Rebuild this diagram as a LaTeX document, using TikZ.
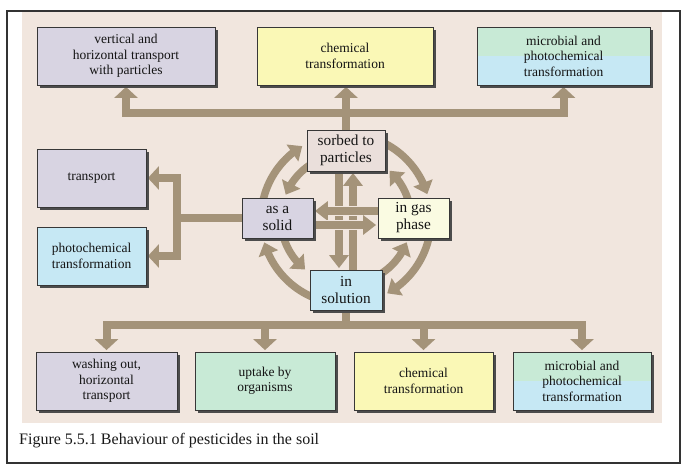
\documentclass[tikz,border=0pt]{standalone}
\usepackage{fontspec}
\setmainfont{Liberation Serif}
\usetikzlibrary{arrows.meta,bending,shadows,calc}
\definecolor{flowc}{RGB}{164,147,121}
\definecolor{beige}{RGB}{241,230,222}
\definecolor{lav}{RGB}{216,212,226}
\definecolor{yel}{RGB}{250,248,182}
\definecolor{grn}{RGB}{200,234,214}
\definecolor{blu}{RGB}{198,232,244}
\definecolor{pnk}{RGB}{234,223,219}
\definecolor{gasc}{RGB}{250,251,226}
\definecolor{edgec}{RGB}{55,55,55}
\pgfdeclarelayer{bg}
\pgfdeclarelayer{conn}
\pgfsetlayers{bg,conn,main}
\begin{document}
\begin{tikzpicture}[x=1pt,y=1pt,
  box/.style={draw=edgec, line width=0.8pt, inner sep=0pt, align=center,
    text=black!92, font=\fontsize{13.5}{15.5}\selectfont,
    drop shadow={shadow xshift=3pt, shadow yshift=-3pt, fill=black!70, opacity=1}},
  midbox/.style={box, font=\fontsize{15.3}{17}\selectfont},
  splitbox/.style={fill=grn, path picture={\fill[blu] (path picture bounding box.west) rectangle (path picture bounding box.south east);}},
  flow/.style={draw=flowc, line width=8pt, line join=miter, -{Triangle[width=23pt,length=11pt]}, shorten >=1.5pt},
  cflow/.style={draw=flowc, line width=7.5pt, -{Triangle[width=19pt,length=13pt]}, shorten >=1.5pt},
  ring/.style={draw=flowc, line width=7.5pt, -{Triangle[width=20pt,length=12pt]}},
  halo/.style={preaction={-, draw=beige, line width=10.5pt}}
]
\useasboundingbox (0,0) rectangle (691,-471);
\begin{pgfonlayer}{bg}
  \fill[white] (0,0) rectangle (691,-471);
  \fill[beige] (22,-12) rectangle (662,-423);
  \draw[line width=1.2pt, draw=black!80] (7,-11) rectangle (680,-463);
\end{pgfonlayer}

% top row
\node[box, fill=lav, minimum width=178pt, minimum height=58pt] (top1) at (126,-56) {vertical and\\horizontal transport\\with particles};
\node[box, fill=yel, minimum width=176pt, minimum height=58pt] (top2) at (345,-56) {chemical\\transformation};
\node[box, splitbox, minimum width=173pt, minimum height=58pt] (top3) at (563.5,-56) {microbial and\\photochemical\\transformation};

% left column
\node[box, fill=lav, minimum width=109pt, minimum height=58pt] (transport) at (91.5,-178) {transport};
\node[box, fill=blu, minimum width=109pt, minimum height=58pt] (photo) at (91.5,-256) {photochemical\\transformation};

% centre
\node[midbox, fill=pnk, minimum width=78pt, minimum height=41pt] (sorbed) at (346,-150.5) {sorbed to\\particles};
\node[midbox, fill=lav, minimum width=71pt, minimum height=40pt] (solid) at (277.5,-218) {as a\\solid};
\node[midbox, fill=gasc, minimum width=71pt, minimum height=40pt] (gas) at (413.5,-218) {in gas\\phase};
\node[midbox, fill=blu, minimum width=72pt, minimum height=40pt] (solution) at (346,-290) {in\\solution};

% bottom row
\node[box, fill=lav, minimum width=141pt, minimum height=58pt] (bot1) at (106.5,-381) {washing out,\\horizontal\\transport};
\node[box, fill=grn, minimum width=140pt, minimum height=58pt] (bot2) at (265,-381) {uptake by\\organisms};
\node[box, fill=yel, minimum width=139pt, minimum height=58pt] (bot3) at (423.5,-381) {chemical\\transformation};
\node[box, splitbox, minimum width=138pt, minimum height=58pt] (bot4) at (582,-381) {microbial and\\photochemical\\transformation};

\node[anchor=base west, inner sep=0pt, font=\fontsize{16}{18}\selectfont, text=black!90] (cap) at (19,-444) {Figure 5.5.1 Behaviour of pesticides in the soil};

\coordinate (C) at (346,-219);
\coordinate (tb) at (346,-113);
\coordinate (lb) at (177,-218);
\coordinate (bb) at (346,-325);

\begin{pgfonlayer}{conn}
  % outer ring (clockwise)
  \draw[ring] (C) ++(180:85pt) arc[start angle=180, end angle=121, radius=85pt];
  \draw[ring] (C) ++(66:85pt) arc[start angle=66, end angle=17, radius=85pt];
  \draw[ring] (C) ++(-8:85pt) arc[start angle=-8, end angle=-61, radius=85pt];
  \draw[ring] (C) ++(-110:85pt) arc[start angle=-110, end angle=-164, radius=85pt];
  % inner ring (counter-clockwise)
  \draw[ring] (C) ++(120:65pt) arc[start angle=120, end angle=158, radius=65pt];
  \draw[ring] (C) ++(12:65pt) arc[start angle=12, end angle=48, radius=65pt];
  \draw[ring] (C) ++(-60:65pt) arc[start angle=-60, end angle=-21, radius=65pt];
  \draw[ring] (C) ++(193:65pt) arc[start angle=193, end angle=231, radius=65pt];

  % top bus
  \draw[flow] (sorbed.north) -- (sorbed.north |- tb) -| (top1.south);
  \draw[flow] (sorbed.north) -- (sorbed.north |- tb) -| (top3.south);
  \draw[flow] (sorbed.north) -- (sorbed.north |- top2.south);
  % left bus
  \draw[flow] (solid.west) -- (lb) |- (transport.east);
  \draw[flow] (solid.west) -- (lb) |- (photo.east);
  % bottom bus
  \draw[flow] (solution.south) -- (bb) -| (bot1.north);
  \draw[flow] (solution.south) -- (bb) -| (bot2.north);
  \draw[flow] (solution.south) -- (bb) -| (bot3.north);
  \draw[flow] (solution.south) -- (bb) -| (bot4.north);

  % centre exchange arrows
  \draw[cflow] ([xshift=-7pt]sorbed.south) -- ([xshift=-7pt]sorbed.south |- solution.north);
  \draw[cflow] ([xshift=7pt]solution.north) -- ([xshift=7pt]solution.north |- sorbed.south);
  \draw[cflow, halo] ([yshift=7pt]gas.west) -- ([yshift=7pt]gas.west -| solid.east);
  \draw[cflow, halo] ([yshift=-7pt]solid.east) -- ([yshift=-7pt]solid.east -| gas.west);
\end{pgfonlayer}
\end{tikzpicture}
\end{document}
